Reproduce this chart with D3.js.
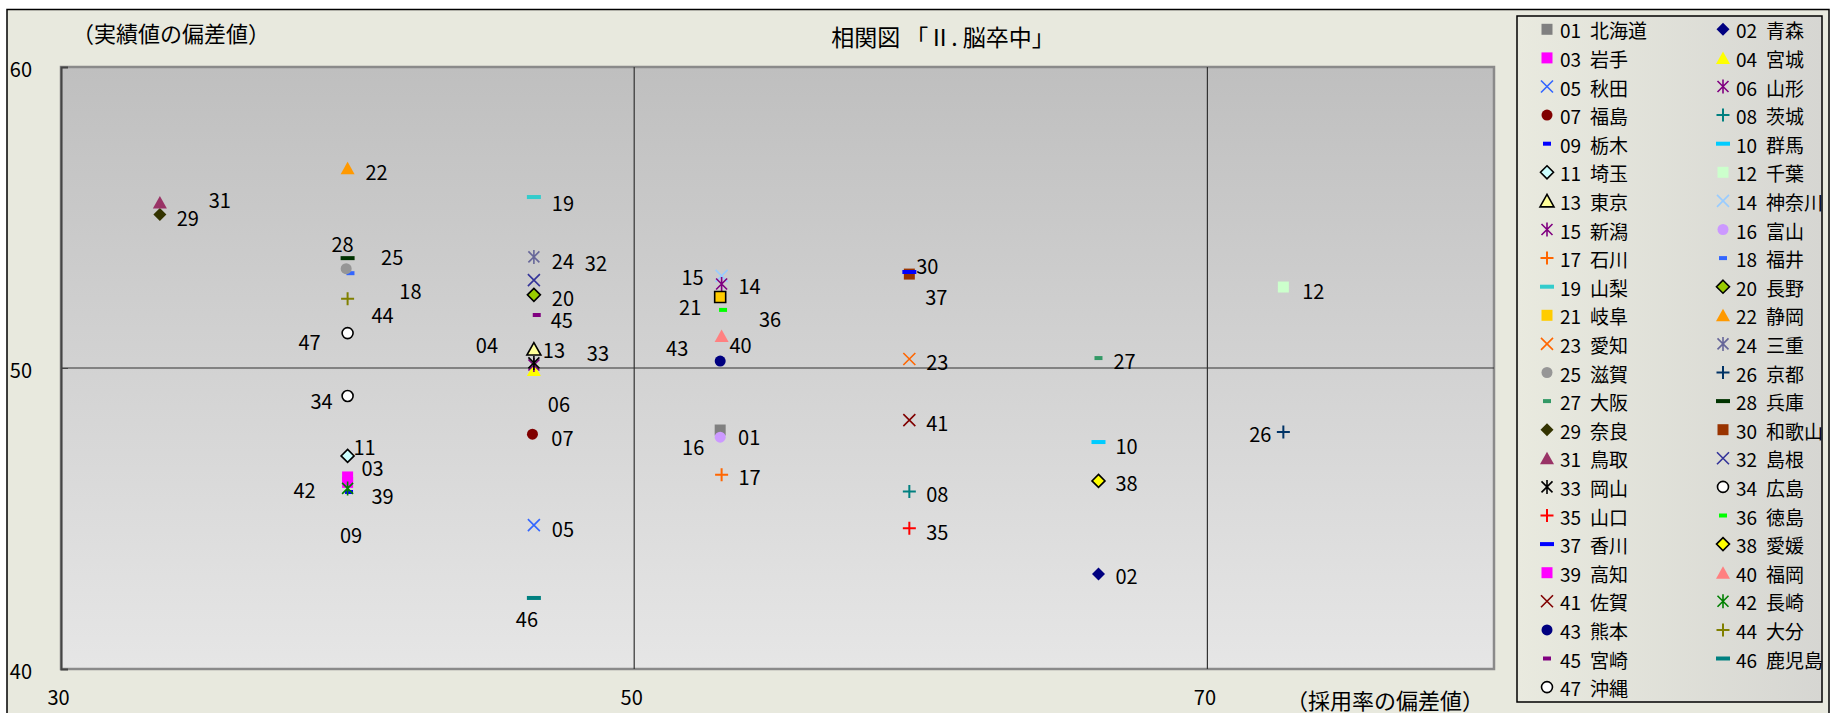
<!DOCTYPE html>
<html><head><meta charset="utf-8">
<script src="https://cdn.jsdelivr.net/npm/d3@7"></script>
<style>
html,body{margin:0;padding:0;background:#fff;}
svg{display:block;font-family:"Noto Sans CJK JP","Noto Sans",sans-serif;}
</style></head>
<body>
<svg id="chart" width="1832" height="713"></svg>
<script>
// ---- data ----
const codes = ["01","02","03","04","05","06","07","08","09","10","11","12","13","14","15","16","17","18","19","20","21","22","23","24","25","26","27","28","29","30","31","32","33","34","35","36","37","38","39","40","41","42","43","44","45","46","47"];
const names = ["北海道","青森","岩手","宮城","秋田","山形","福島","茨城","栃木","群馬","埼玉","千葉","東京","神奈川","新潟","富山","石川","福井","山梨","長野","岐阜","静岡","愛知","三重","滋賀","京都","大阪","兵庫","奈良","和歌山","鳥取","島根","岡山","広島","山口","徳島","香川","愛媛","高知","福岡","佐賀","長崎","熊本","大分","宮崎","鹿児島","沖縄"];
// 採用率の偏差値
const xValues = [53.0,66.2,40.0,46.5,46.5,46.5,46.45,59.6,40.05,66.2,40.0,72.65,46.5,53.05,53.05,53.0,53.05,40.1,46.5,46.5,53.0,40.0,59.6,46.5,39.95,72.65,66.2,40.0,33.45,59.6,33.45,46.5,46.5,40.0,59.6,53.1,59.6,66.2,40.0,53.05,59.6,40.0,53.0,40.0,46.6,46.5,40.0];
// 実績値の偏差値
const yValues = [47.94,43.16,46.38,49.93,44.78,50.1,47.8,45.9,45.88,47.54,47.08,52.69,50.63,53.06,52.79,47.7,46.45,53.15,55.68,52.43,52.36,56.64,50.3,53.69,53.3,47.87,50.33,53.65,55.1,53.12,55.5,52.92,50.17,49.07,44.68,51.93,53.19,46.25,46.2,51.06,48.27,46.0,50.23,52.3,51.76,42.36,51.16];
const xTicks = [30,50,70];
const yTicks = [40,50,60];
const titleText = "相関図 「Ⅱ. 脳卒中」";
const yTitle = "（実績値の偏差値）";
const xTitle = "（採用率の偏差値）";

// ---- styles (separate from data) ----
const markerTypes = ["square","diamond","square","triangle","x","star","circle","plus","dash","longdash","diamond","square","triangle","x","star","circle","plus","dash","longdash","diamond","square","triangle","x","star","circle","plus","dash","longdash","diamond","square","triangle","x","star","circle","plus","dash","longdash","diamond","square","triangle","x","star","circle","plus","dash","longdash","circle"];
const colors = ["#808080","#000080","#ff00ff","#ffff00","#3366ff","#800080","#800000","#008080","#0000ff","#00ccff","#ccffff","#ccffcc","#ffff99","#99ccff","#800080","#cc99ff","#ff6600","#3366ff","#33cccc","#99cc00","#ffcc00","#ff9900","#ff6600","#666699","#969696","#003366","#339966","#003300","#333300","#993300","#993366","#333399","#000000","#ffffff","#ff0000","#00ff00","#0000ff","#ffff00","#ff00ff","#ff8080","#800000","#008000","#000080","#808000","#800080","#008080","#ffffff"];
const outlined = new Set(["11","13","20","21","34","38","47"]);
// label offsets (px) relative to the marker
const labelOffsets = {"01":[29,6],"02":[28,2],"03":[25,-9],"04":[-47,-26],"05":[29,3],"06":[25,39],"07":[30,3],"08":[28,2],"09":[2,42],"10":[28,3],"11":[17,-9],"12":[30,3],"13":[20,0],"14":[28,10],"15":[-29,-8],"16":[-27,9],"17":[28,2],"18":[60,17],"19":[29,5],"20":[29,3],"21":[-30,10],"22":[29,3],"23":[28,3],"24":[29,4],"25":[46,-12],"26":[-23,1],"27":[26,2],"28":[-5,-15],"29":[28,3],"30":[18,-9],"31":[60,-3],"32":[62,-18],"33":[64,-10],"34":[-26,5],"35":[28,3],"36":[47,9],"37":[27,25],"38":[28,2],"39":[35,13],"40":[19,8],"41":[28,2],"42":[-43,1],"43":[-43,-14],"44":[35,16],"45":[25,4],"46":[-7,21],"47":[-38,8]};

const svg = d3.select("#chart");
const defs = svg.append("defs");
const pg = defs.append("linearGradient").attr("id","plotGrad").attr("x1",0).attr("y1",0).attr("x2",0).attr("y2",1);
pg.append("stop").attr("offset","0%").attr("stop-color","#bfbfbf");
pg.append("stop").attr("offset","100%").attr("stop-color","#e6e6e6");
const lg = defs.append("linearGradient").attr("id","legGrad").attr("x1",0).attr("y1",0).attr("x2",1).attr("y2",0);
lg.append("stop").attr("offset","0%").attr("stop-color","#e9eadf");
lg.append("stop").attr("offset","100%").attr("stop-color","#d6d6d2");

// outer chart area
svg.append("rect").attr("x",7).attr("y",9.5).attr("width",1822).attr("height",720)
  .attr("fill","#e8e9de").attr("stroke","#000").attr("stroke-width",1.5);

const P = {l:61, t:67, r:1494, b:669};
const x = d3.scaleLinear().domain([30,80]).range([P.l,P.r]);
const y = d3.scaleLinear().domain([40,60]).range([P.b,P.t]);

svg.append("rect").attr("x",P.l).attr("y",P.t).attr("width",P.r-P.l).attr("height",P.b-P.t)
  .attr("fill","url(#plotGrad)").attr("stroke","#8a8a8a").attr("stroke-width",2.5);

// grid lines at major units
const grid = svg.append("g");
grid.selectAll("line.vx").data(xTicks.filter(d=>d>30)).enter().append("line")
  .attr("x1",d=>x(d)).attr("x2",d=>x(d)).attr("y1",P.t).attr("y2",P.b)
  .attr("stroke","#333").attr("stroke-width",1.2);
grid.selectAll("line.hy").data(yTicks.filter(d=>d>40&&d<60)).enter().append("line")
  .attr("y1",d=>y(d)).attr("y2",d=>y(d)).attr("x1",P.l).attr("x2",P.r)
  .attr("stroke","#333").attr("stroke-width",1.2);

// axes
const yAxis = svg.append("g").attr("transform",`translate(${P.l},0)`)
  .call(d3.axisLeft(y).tickValues(yTicks).tickSize(-7).tickPadding(29).tickFormat(d3.format("d")));
yAxis.select(".domain").attr("stroke","#444").attr("stroke-width",2);
yAxis.selectAll(".tick line").attr("stroke","#444");
yAxis.selectAll("text").attr("font-size",20).attr("fill","#000").attr("dy","0.45em").attr("font-family","Noto Sans CJK JP");

const xAxis = svg.append("g").attr("transform",`translate(0,${P.b})`)
  .call(d3.axisBottom(x).tickValues(xTicks).tickSize(0).tickPadding(22).tickFormat(d3.format("d")));
xAxis.select(".domain").remove();
xAxis.selectAll("text").attr("font-size",20).attr("fill","#000").attr("dx","-3").attr("font-family","Noto Sans CJK JP");

// titles
svg.append("text").attr("x",943).attr("y",36).attr("text-anchor","middle").attr("dominant-baseline","central")
  .attr("font-size",23).text(titleText);
svg.append("text").attr("x",72).attr("y",32).attr("text-anchor","start").attr("dominant-baseline","central")
  .attr("font-size",22).text(yTitle);
svg.append("text").attr("x",1385).attr("y",699).attr("text-anchor","middle").attr("dominant-baseline","central")
  .attr("font-size",22).text(xTitle);

// marker shapes
function markerPath(t){
  switch(t){
    case "square": return "M-5.5,-5.5h11v11h-11Z";
    case "diamond": return "M0,-6.5L6.5,0L0,6.5L-6.5,0Z";
    case "triangle": return "M0,-6.5L7,6L-7,6Z";
    case "circle": return d3.symbol(d3.symbolCircle, Math.PI*5.5*5.5)();
    case "x": return "M-6,-6L6,6M6,-6L-6,6";
    case "plus": return "M-6.5,0H6.5M0,-6.5V6.5";
    case "star": return "M-5.5,-5.5L5.5,5.5M5.5,-5.5L-5.5,5.5M0,-7V7";
    case "dash": return "M-4,-2h8v4h-8Z";
    case "longdash": return "M-7,-2h14v4h-14Z";
  }
}
const strokeOnly = new Set(["x","plus","star"]);
function styleMarker(sel, i, legend){
  const t = markerTypes[i], c = colors[i], code = codes[i];
  sel.attr("d", markerPath(t));
  if (strokeOnly.has(t)) {
    sel.attr("fill","none").attr("stroke",c).attr("stroke-width",t==="plus"?2:1.6);
  } else if (outlined.has(code) && !(legend && code==="21")) {
    sel.attr("fill",c).attr("stroke","#000").attr("stroke-width",1.6);
  } else {
    sel.attr("fill",c).attr("stroke","none");
  }
}

const pts = d3.range(codes.length).map(i=>({i, code:codes[i], x:xValues[i], y:yValues[i]}));

// data labels
const lblG = svg.append("g");
lblG.selectAll("text").data(pts).enter().append("text")
  .attr("x",d=>x(d.x)+labelOffsets[d.code][0])
  .attr("y",d=>y(d.y)+labelOffsets[d.code][1])
  .attr("text-anchor","middle").attr("dominant-baseline","central")
  .attr("font-size",20).attr("fill","#000").text(d=>d.code);

// markers
const mG = svg.append("g");
mG.selectAll("path").data(pts).enter().append("path")
  .attr("transform",d=>`translate(${x(d.x)},${y(d.y)})`)
  .each(function(d){ styleMarker(d3.select(this), d.i, false); });

// legend
svg.append("rect").attr("x",1517).attr("y",16).attr("width",305).attr("height",686)
  .attr("fill","url(#legGrad)").attr("stroke","#000").attr("stroke-width",1.5);
const rowH = 28.6, row0 = 29.3, colX = [1547, 1723];
const leg = svg.append("g");
const items = leg.selectAll("g").data(pts).enter().append("g")
  .attr("transform",d=>`translate(${colX[d.i%2]},${row0+Math.floor(d.i/2)*rowH})`);
items.append("path").each(function(d){ styleMarker(d3.select(this), d.i, true); });
const lt = items.append("text").attr("x",13).attr("y",0).attr("dominant-baseline","central")
  .attr("font-size",19).attr("fill","#000");
lt.append("tspan").text(d=>d.code);
lt.append("tspan").attr("dx",9).text(d=>names[d.i]);
</script>
</body></html>
